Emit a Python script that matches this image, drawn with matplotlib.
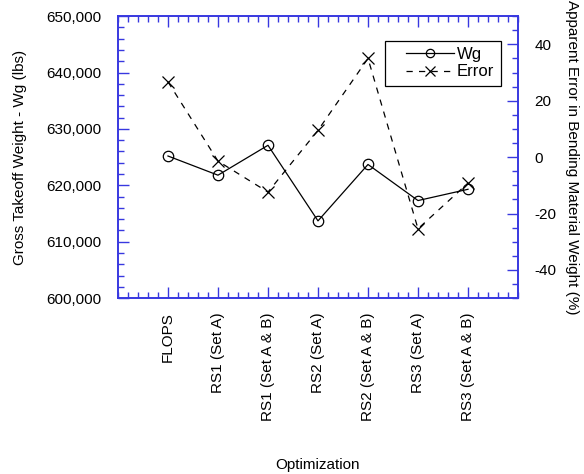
import matplotlib
matplotlib.use("Agg")
import matplotlib.pyplot as plt
from matplotlib.ticker import MultipleLocator, FuncFormatter
from matplotlib.legend_handler import HandlerLine2D

plt.rcParams['font.family'] = ['Liberation Sans', 'DejaVu Sans']
plt.rcParams['font.size'] = 11
plt.rcParams['axes.unicode_minus'] = False

# casos de optimizacion
casos = ["FLOPS", "RS1 (Set A)", "RS1 (Set A & B)", "RS2 (Set A)",
         "RS2 (Set A & B)", "RS3 (Set A)", "RS3 (Set A & B)"]
# peso bruto de despegue (lbs)
wg = [625200, 621800, 627100, 613700, 623700, 617300, 619300]
# error aparente en peso de material de flexion (%)
error = [26.7, -1.4, -12.4, 9.5, 35.0, -25.4, -9.2]

AZUL = "#3838e0"


class HandlerConHueco(HandlerLine2D):
    """Linea de leyenda con un hueco a la izquierda y el marcador al centro."""

    def __init__(self, hueco=10, **kw):
        super().__init__(**kw)
        self.hueco = hueco

    def get_xdata(self, legend, xdescent, ydescent, width, height, fontsize):
        x0 = -xdescent + self.hueco
        x1 = -xdescent + width
        return [x0, x1], [(x0 + x1) / 2]


fig = plt.figure(figsize=(5.84, 4.74), dpi=100)
ax = fig.add_axes([0.202, 0.371, 0.685, 0.595])
ax2 = ax.twinx()

x = list(range(1, len(casos) + 1))
l1, = ax.plot(x, wg, color="black", lw=0.9, marker="o", ms=7.5,
              mfc="none", mec="black", mew=0.9, label="Wg")
l2, = ax2.plot(x, error, color="black", lw=0.9, ls=(0, (5, 5)), marker="x",
               ms=9, mew=0.9, label="Error")

ax.set_xlim(0, 8)
ax.set_ylim(600000, 650000)
ax2.set_ylim(-50, 50)

ax.set_xticks(x)
ax.set_xticklabels(casos, rotation=90)
ax.xaxis.set_minor_locator(MultipleLocator(0.2))
ax.yaxis.set_major_locator(MultipleLocator(10000))
ax.yaxis.set_minor_locator(MultipleLocator(2000))
ax.yaxis.set_major_formatter(FuncFormatter(lambda v, p: f"{int(v):,}"))
ax2.yaxis.set_major_locator(MultipleLocator(20))
ax2.yaxis.set_minor_locator(MultipleLocator(5))

for a in (ax, ax2):
    for s in a.spines.values():
        s.set_color(AZUL)
        s.set_linewidth(1.2)
    a.tick_params(which="both", direction="in", color=AZUL, width=1.0,
                  labelcolor="black")
    a.tick_params(which="major", length=8)
    a.tick_params(which="minor", length=4)
ax.tick_params(which="both", top=True, right=False)
ax.tick_params(axis="x", pad=10)
ax.tick_params(axis="y", pad=12)
ax2.tick_params(axis="y", pad=12)

ax.set_xlabel("Optimization", labelpad=27)
ax.set_ylabel("Gross Takeoff Weight - Wg (lbs)", labelpad=14)
ax2.set_ylabel("Apparent Error in Bending Material Weight (%)",
               rotation=-90, labelpad=6, va="bottom")

leg = ax.legend([l1, l2], ["Wg", "Error"], loc="upper right",
                bbox_to_anchor=(0.9775, 0.943), fancybox=False,
                edgecolor="black", framealpha=1, handlelength=3.8,
                fontsize=12, borderpad=0.38, labelspacing=0.15,
                markerscale=0.8, handletextpad=0.15, numpoints=1,
                handler_map={l1: HandlerConHueco(hueco=11),
                             l2: HandlerConHueco(hueco=11)})
leg.get_frame().set_linewidth(0.9)

fig.savefig("out.png", dpi=100)
